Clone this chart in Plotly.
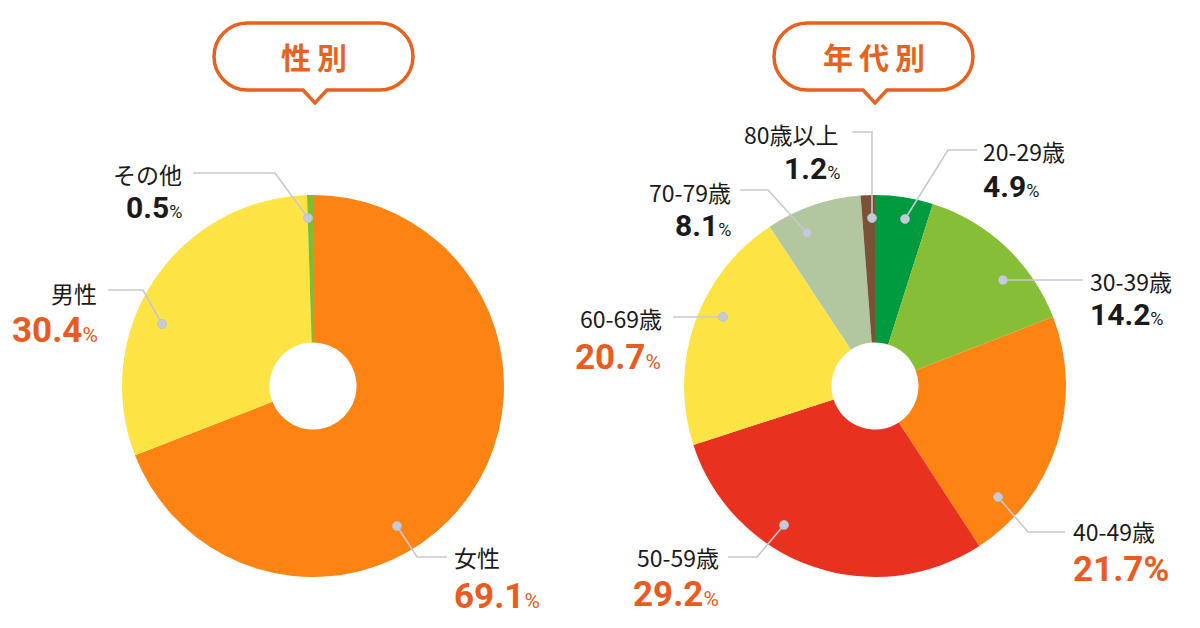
import plotly.graph_objects as go

# ---------------- data ----------------
gender_labels = ["女性", "男性", "その他"]
gender_values = [69.1, 30.4, 0.5]

age_labels = ["20-29歳", "30-39歳", "40-49歳", "50-59歳", "60-69歳", "70-79歳", "80歳以上"]
age_values = [4.9, 14.2, 21.7, 29.2, 20.7, 8.1, 1.2]

titles = ["性別", "年代別"]

# ---------------- styles ----------------
W, H = 1200, 628
ORANGE_TXT = "#EA5B21"
BUBBLE = "#E8621D"
LINE_C = "#C7C8D2"
DOT_C = "#C5CAD8"
TXT = "#1A1A1A"
LABEL_FONT = "Noto Sans CJK JP"
NUM_FONT = "Roboto, Noto Sans CJK JP"

gender_colors = ["#FD8412", "#FDE444", "#7DBD2F"]
age_colors = ["#009B3F", "#86BE35", "#FD8412", "#E8321F", "#FDE444", "#B2C79F", "#7A5336"]

# pie geometry (pixels)
R = 191
pies = [dict(cx=313, cy=386), dict(cx=875, cy=386)]
HOLE = 0.228

# callout layout per label: anchor side, label pos, pct pos, leader path (pixels), small % flag
gender_callouts = {
    "女性":   dict(side="left",  lx=452, ly=557, px=452, py=596, path=[(447, 557), (417, 557), (397, 526)], small=True),
    "男性":   dict(side="right", lx=99,  ly=293, px=100, py=330, path=[(108, 290), (143, 290), (162, 324)], small=True),
    "その他": dict(side="right", lx=184, ly=174, px=184, py=207, path=[(193, 173), (275, 173), (308, 218)], small=True),
}
age_callouts = {
    "20-29歳":  dict(side="left",  lx=981,  ly=151, px=981,  py=186, path=[(977, 150), (948, 150), (905, 219)], small=True),
    "30-39歳":  dict(side="left",  lx=1088, ly=281, px=1088, py=314, path=[(1083, 280), (1003, 280)], small=True),
    "40-49歳":  dict(side="left",  lx=1071, ly=531, px=1071, py=569, path=[(1065, 532), (1028, 532), (998, 497)], small=False),
    "50-59歳":  dict(side="right", lx=721,  ly=557, px=721,  py=594, path=[(728, 557), (757, 557), (784, 525)], small=True),
    "60-69歳":  dict(side="right", lx=664,  ly=318, px=663,  py=357, path=[(673, 317), (723, 317)], small=True),
    "70-79歳":  dict(side="right", lx=733,  ly=192, px=733,  py=225, path=[(740, 190), (768, 190), (807, 233)], small=True),
    "80歳以上": dict(side="right", lx=841,  ly=134, px=842,  py=168, path=[(852, 132), (872, 132), (872, 218)], small=True),
}

bubbles = [dict(x0=214, x1=413, y0=23, y1=90, tip=315), dict(x0=774, x1=973, y0=23, y1=90, tip=875)]

fig = go.Figure()

# invisible pixel-space axes for callouts/bubbles
fig.add_trace(go.Scatter(x=[0, W], y=[0, H], mode="markers", marker=dict(opacity=0),
                         hoverinfo="skip", showlegend=False))

for (labels, values, colors), p in zip(
        [(gender_labels, gender_values, gender_colors), (age_labels, age_values, age_colors)], pies):
    fig.add_trace(go.Pie(
        labels=labels, values=values, sort=False, direction="clockwise", rotation=0,
        hole=HOLE, textinfo="none", hoverinfo="label+percent", showlegend=False,
        marker=dict(colors=colors, line=dict(width=0)),
        domain=dict(x=[(p["cx"] - R) / W, (p["cx"] + R) / W],
                    y=[(H - p["cy"] - R) / H, (H - p["cy"] + R) / H]),
    ))

shapes = []
annotations = []


def add_callouts(labels, values, callouts):
    for lab, val in zip(labels, values):
        c = callouts[lab]
        pts = c["path"]
        d = "M " + " L ".join(f"{x},{y}" for x, y in pts)
        shapes.append(dict(type="path", path=d, xref="x", yref="y", layer="above",
                           line=dict(color=LINE_C, width=1.6)))
        dx, dy = pts[-1]
        shapes.append(dict(type="circle", xref="x", yref="y", layer="above",
                           x0=dx - 4.5, x1=dx + 4.5, y0=dy - 4.5, y1=dy + 4.5,
                           fillcolor=DOT_C, line=dict(color="#B9BECE", width=0.8)))
        anchor = "left" if c["side"] == "left" else "right"
        annotations.append(dict(x=c["lx"], y=c["ly"], xref="x", yref="y", text=lab,
                                showarrow=False, xanchor=anchor, yanchor="middle",
                                font=dict(family=LABEL_FONT, size=23, color=TXT)))
        big = val >= 20
        col = ORANGE_TXT if big else TXT
        size = 35 if big else 30
        if c["small"]:
            pct = f"<b>{val:.1f}</b><span style='font-size:{int(size * 0.62)}px'>%</span>"
        else:
            pct = f"<b>{val:.1f}%</b>"
        annotations.append(dict(x=c["px"], y=c["py"], xref="x", yref="y", text=pct,
                                showarrow=False, xanchor=anchor, yanchor="middle",
                                font=dict(family=NUM_FONT, size=size, color=col)))


add_callouts(gender_labels, gender_values, gender_callouts)
add_callouts(age_labels, age_values, age_callouts)

# title bubbles
K = 0.5523
for b, t in zip(bubbles, titles):
    x0, x1, y0, y1, tip = b["x0"], b["x1"], b["y0"], b["y1"], b["tip"]
    r = (y1 - y0) / 2
    m = (y0 + y1) / 2
    path = (
        f"M {x0 + r},{y0} L {x1 - r},{y0} "
        f"C {x1 - r + K * r},{y0} {x1},{m - K * r} {x1},{m} "
        f"C {x1},{m + K * r} {x1 - r + K * r},{y1} {x1 - r},{y1} "
        f"L {tip + 12},{y1} L {tip},{y1 + 13} L {tip - 12},{y1} "
        f"L {x0 + r},{y1} "
        f"C {x0 + r - K * r},{y1} {x0},{m + K * r} {x0},{m} "
        f"C {x0},{m - K * r} {x0 + r - K * r},{y0} {x0 + r},{y0} Z"
    )
    shapes.append(dict(type="path", path=path, xref="x", yref="y", layer="above",
                       fillcolor="white", line=dict(color=BUBBLE, width=3.5)))
    annotations.append(dict(x=(x0 + x1) / 2, y=m - 1, xref="x", yref="y",
                            text="<b>" + "\u2009".join(t) + "</b>", showarrow=False,
                            xanchor="center", yanchor="middle",
                            font=dict(family=LABEL_FONT, size=30, color=BUBBLE)))

fig.update_layout(
    width=W, height=H, margin=dict(l=0, r=0, t=0, b=0),
    paper_bgcolor="white", plot_bgcolor="white",
    xaxis=dict(range=[0, W], visible=False, fixedrange=True),
    yaxis=dict(range=[H, 0], visible=False, fixedrange=True),
    shapes=shapes, annotations=annotations, showlegend=False,
)

fig.write_html("out.html")
